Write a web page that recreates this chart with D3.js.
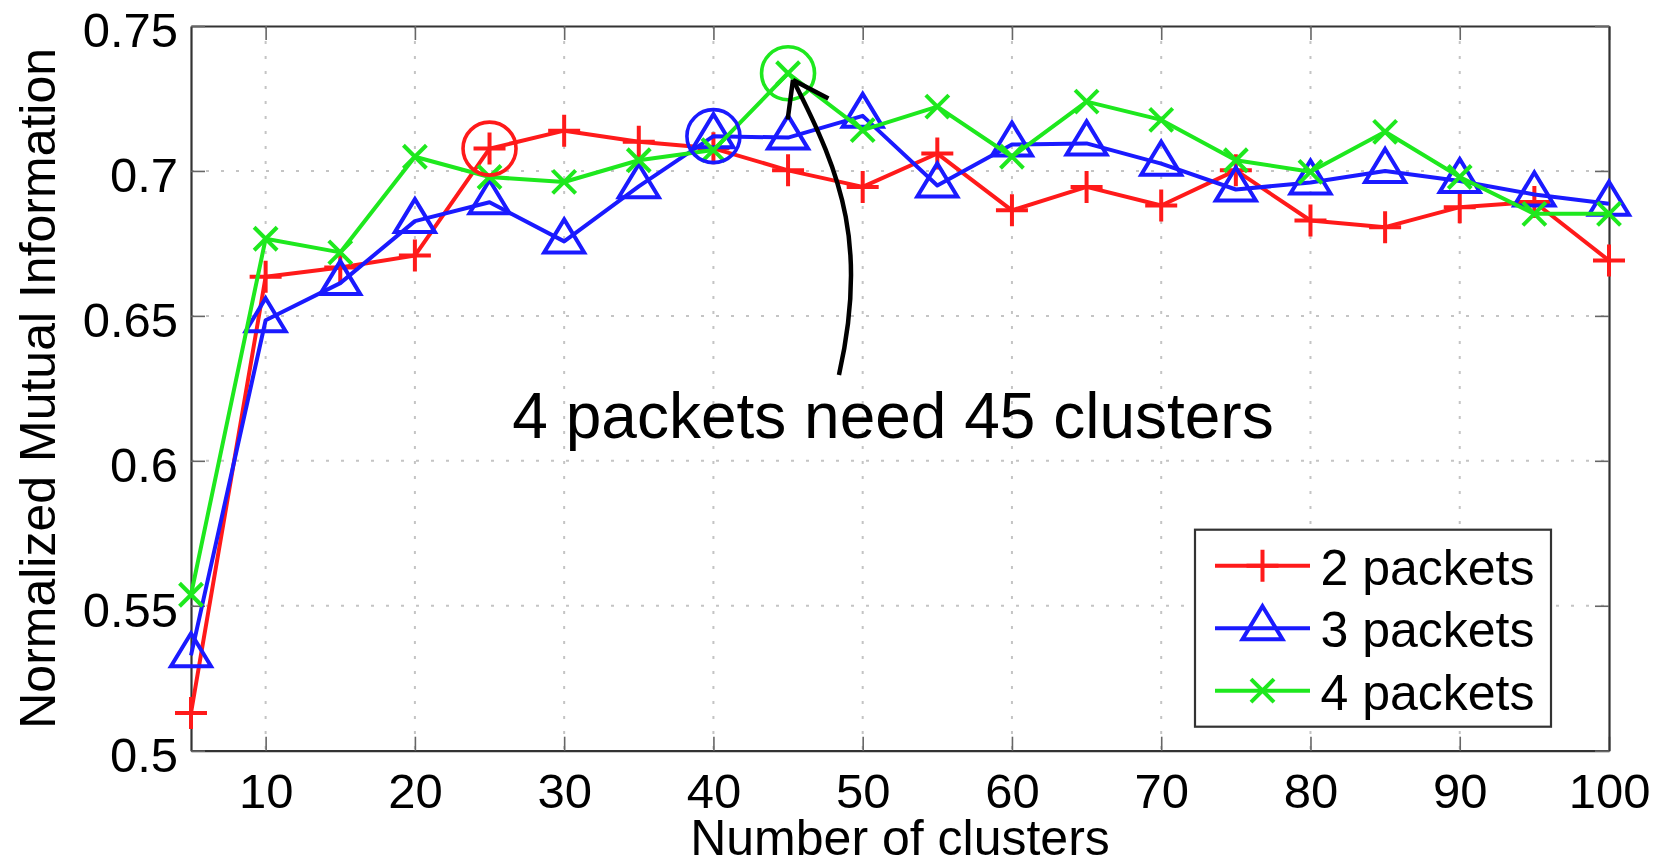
<!DOCTYPE html>
<html>
<head>
<meta charset="utf-8">
<script src="https://cdn.jsdelivr.net/npm/d3@7"></script>
<style>
  html, body { margin: 0; padding: 0; background: #ffffff; }
  svg { display: block; }
  text { font-family: "Liberation Sans", Arial, Helvetica, sans-serif; fill: #000; }
</style>
</head>
<body>
<svg id="chart" width="1667" height="866"></svg>
<script>
// Number of clusters evaluated
const clusters = [5, 10, 15, 20, 25, 30, 35, 40, 45, 50, 55, 60, 65, 70, 75, 80, 85, 90, 95, 100];

// Normalized mutual information per packet count
const nmi2 = [0.513, 0.6635, 0.6667, 0.6708, 0.7077, 0.7139, 0.7101, 0.7078, 0.7002, 0.6945,
              0.706, 0.6864, 0.6945, 0.6881, 0.7002, 0.6829, 0.6806, 0.6875, 0.6893, 0.6691];
const nmi3 = [0.5329, 0.6485, 0.6613, 0.6827, 0.6892, 0.6757, 0.6947, 0.712, 0.7115, 0.719,
              0.695, 0.7091, 0.7095, 0.7025, 0.6936, 0.696, 0.700, 0.6965, 0.6919, 0.6887];
const nmi4 = [0.5538, 0.6766, 0.6719, 0.7049, 0.6979, 0.6962, 0.7037, 0.7072, 0.7337, 0.7141,
              0.7222, 0.7049, 0.7239, 0.7176, 0.7037, 0.6997, 0.7135, 0.6979, 0.6852, 0.6852];

const seriesNames = ["2 packets", "3 packets", "4 packets"];
const seriesColors = ["#ff1a1a", "#1a1aff", "#1ee81e"];
const seriesMarkers = ["plus", "triangle", "cross"];

// Cluster count circled on each curve
const circledClusters = [25, 40, 45];

const xTickValues = [10, 20, 30, 40, 50, 60, 70, 80, 90, 100];
const xTickLabels = ["10", "20", "30", "40", "50", "60", "70", "80", "90", "100"];
const yTickValues = [0.5, 0.55, 0.6, 0.65, 0.7, 0.75];
const yTickLabels = ["0.5", "0.55", "0.6", "0.65", "0.7", "0.75"];

const xTitle = "Number of clusters";
const yTitle = "Normalized Mutual Information";

// Callout text and curved arrow (data coordinates: tail, control 1, control 2, tip)
const noteText = "4 packets need 45 clusters";
const notePos = [52.03, 0.6079];
const arrowPts = [[48.41, 0.6296], [50.33, 0.6733], [48.72, 0.6977], [45.33, 0.7314]];

const series = [nmi2, nmi3, nmi4];

const svg = d3.select("#chart");
const plot = { left: 191, right: 1609, top: 26, bottom: 750.7 };

const x = d3.scaleLinear().domain([5, 100]).range([plot.left, plot.right]);
const y = d3.scaleLinear().domain([0.5, 0.75]).range([plot.bottom, plot.top]);

// Dotted grid
const grid = svg.append("g").attr("stroke", "#c4c4c4").attr("stroke-width", 2)
  .attr("stroke-dasharray", "3,12");
grid.selectAll("line.vx").data(xTickValues.filter(v => v < 100)).join("line")
  .attr("x1", d => x(d)).attr("x2", d => x(d))
  .attr("y1", plot.top).attr("y2", plot.bottom);
grid.selectAll("line.hy").data(yTickValues.filter(v => v > 0.5 && v < 0.75)).join("line")
  .attr("x1", plot.left).attr("x2", plot.right)
  .attr("y1", d => y(d)).attr("y2", d => y(d));

// Axes (ticks pointing inward on all four sides)
const tickLen = 14;
const fmtX = (d) => xTickLabels[xTickValues.indexOf(d)];
const fmtY = (d) => yTickLabels[yTickValues.findIndex(v => Math.abs(v - d) < 1e-9)];

const gBottom = svg.append("g").attr("transform", `translate(0,${plot.bottom})`)
  .call(d3.axisBottom(x).tickValues(xTickValues).tickFormat(fmtX)
    .tickSizeInner(-tickLen).tickSizeOuter(0).tickPadding(22.5));
const gTop = svg.append("g").attr("transform", `translate(0,${plot.top})`)
  .call(d3.axisTop(x).tickValues(xTickValues).tickFormat("")
    .tickSizeInner(-tickLen).tickSizeOuter(0));
const gLeft = svg.append("g").attr("transform", `translate(${plot.left},0)`)
  .call(d3.axisLeft(y).tickValues(yTickValues).tickFormat(fmtY)
    .tickSizeInner(-tickLen).tickSizeOuter(0).tickPadding(13));
const gRight = svg.append("g").attr("transform", `translate(${plot.right},0)`)
  .call(d3.axisRight(y).tickValues(yTickValues).tickFormat("")
    .tickSizeInner(-tickLen).tickSizeOuter(0));

[gBottom, gTop, gLeft, gRight].forEach(g => {
  g.select(".domain").attr("stroke", "#333").attr("stroke-width", 2.2);
  g.selectAll(".tick line").attr("stroke", "#666").attr("stroke-width", 1.6);
  g.selectAll(".tick text").attr("font-size", 49)
    .attr("font-family", "'Liberation Sans', Arial, Helvetica, sans-serif").attr("fill", "#000");
});
gLeft.selectAll(".tick text").attr("dy", "0.42em");

// Axis titles
svg.append("text").attr("x", (plot.left + plot.right) / 2).attr("y", 855)
  .attr("text-anchor", "middle").attr("font-size", 50).text(xTitle);
svg.append("text").attr("transform", `translate(55,${(plot.top + plot.bottom) / 2}) rotate(-90)`)
  .attr("text-anchor", "middle").attr("font-size", 50).text(yTitle);

// Marker shapes
function markerPath(kind) {
  if (kind === "plus") return "M-16,0H16M0,-16V16";
  if (kind === "cross") return "M-11.5,-11.5L11.5,11.5M-11.5,11.5L11.5,-11.5";
  // upward triangle centred on its centroid
  return "M0,-22L20,11L-20,11Z";
}

const line = d3.line().x(d => x(d[0])).y(d => y(d[1]));
const lw = 4;

series.forEach((vals, i) => {
  const pts = clusters.map((c, j) => [c, vals[j]]);
  const g = svg.append("g");
  g.append("path").attr("d", line(pts)).attr("fill", "none")
    .attr("stroke", seriesColors[i]).attr("stroke-width", lw).attr("stroke-linejoin", "round");
  g.selectAll("path.m").data(pts).join("path").attr("class", "m")
    .attr("transform", d => `translate(${x(d[0])},${y(d[1])})`)
    .attr("d", markerPath(seriesMarkers[i]))
    .attr("fill", "none").attr("stroke", seriesColors[i]).attr("stroke-width", lw);
});

// Highlight circles
circledClusters.forEach((c, i) => {
  const j = clusters.indexOf(c);
  svg.append("circle").attr("cx", x(c)).attr("cy", y(series[i][j])).attr("r", 26.5)
    .attr("fill", "none").attr("stroke", seriesColors[i]).attr("stroke-width", 3.6);
});

// Legend
const legend = svg.append("g").attr("transform", `translate(${plot.right - 414},${plot.bottom - 221})`);
legend.append("rect").attr("x", 0).attr("y", 0).attr("width", 356).attr("height", 197)
  .attr("fill", "#fff").attr("stroke", "#333").attr("stroke-width", 2.2);
seriesNames.forEach((name, i) => {
  const ry = 36 + i * 62.5;
  const row = legend.append("g").attr("transform", `translate(0,${ry})`);
  row.append("line").attr("x1", 20).attr("x2", 115).attr("y1", 0).attr("y2", 0)
    .attr("stroke", seriesColors[i]).attr("stroke-width", lw);
  row.append("path").attr("transform", "translate(67.5,0)").attr("d", markerPath(seriesMarkers[i]))
    .attr("fill", "none").attr("stroke", seriesColors[i]).attr("stroke-width", lw);
  row.append("text").attr("x", 125.5).attr("y", 19).attr("font-size", 50).text(name);
});

// Curved callout arrow
const P = arrowPts.map(p => [x(p[0]), y(p[1])]);
const ap = d3.path();
ap.moveTo(P[0][0], P[0][1]);
ap.bezierCurveTo(P[1][0], P[1][1], P[2][0], P[2][1], P[3][0], P[3][1]);
svg.append("path").attr("d", ap.toString()).attr("fill", "none")
  .attr("stroke", "#000").attr("stroke-width", 4.5);
const back = Math.atan2(P[2][1] - P[3][1], P[2][0] - P[3][0]);
const headLen = 40, spread = 35 * Math.PI / 180;
const hp = d3.path();
[back - spread, back + spread].forEach(a => {
  hp.moveTo(P[3][0], P[3][1]);
  hp.lineTo(P[3][0] + headLen * Math.cos(a), P[3][1] + headLen * Math.sin(a));
});
svg.append("path").attr("d", hp.toString()).attr("fill", "none")
  .attr("stroke", "#000").attr("stroke-width", 4.5).attr("stroke-linecap", "butt");

svg.append("text").attr("x", x(notePos[0])).attr("y", y(notePos[1]))
  .attr("text-anchor", "middle").attr("font-size", 64).text(noteText);
</script>
</body>
</html>
